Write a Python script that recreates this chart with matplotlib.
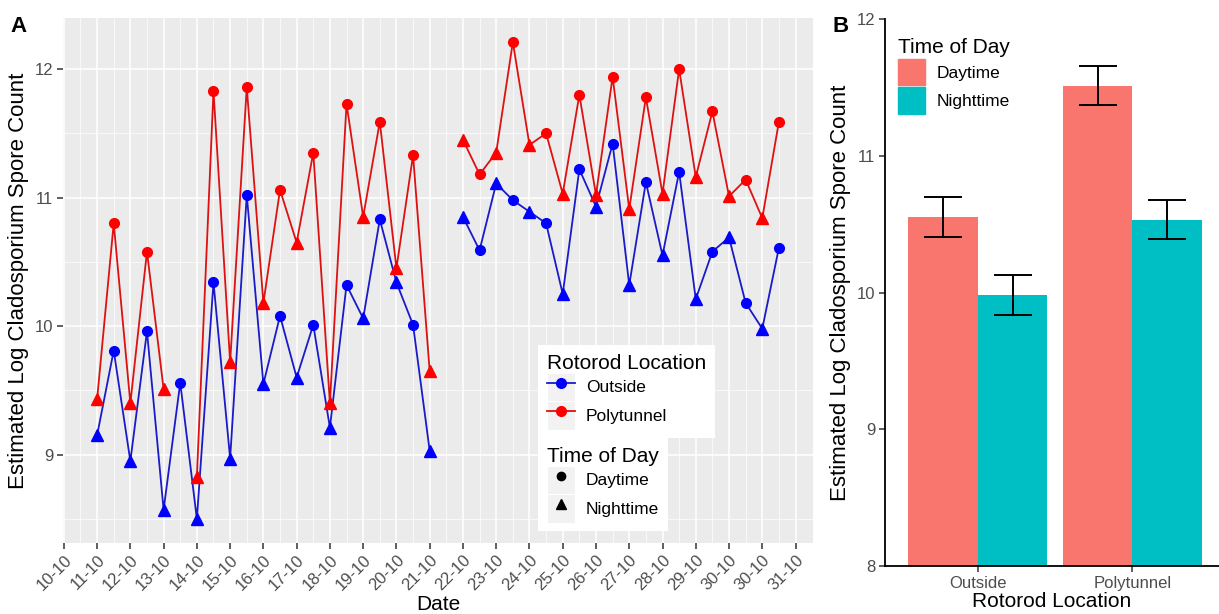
import numpy as np
import matplotlib
matplotlib.use("Agg")
import matplotlib.pyplot as plt
from matplotlib.lines import Line2D
from matplotlib.patches import Patch, Rectangle
from matplotlib.legend_handler import HandlerLine2D

plt.rcParams['font.family'] = ['Liberation Sans', 'DejaVu Sans']

# ---- panel A data: one value per half day, from 11-10 night to 31-10 day
date_labels = ["10-10", "11-10", "12-10", "13-10", "14-10", "15-10", "16-10",
               "17-10", "18-10", "19-10", "20-10", "21-10", "22-10", "23-10",
               "24-10", "25-10", "26-10", "27-10", "28-10", "29-10", "30-10",
               "30-10", "31-10"]
time_of_day = ["Nighttime", "Daytime"] * 21

outside = [9.15, 9.81, 8.95, 9.96, 8.57, 9.56, 8.50, 10.34, 8.97, 11.02,
           9.55, 10.08, 9.60, 10.01, 9.21, 10.32, 10.06, 10.83, 10.34, 10.01,
           9.03, np.nan, 10.85, 10.59, 11.11, 10.98, 10.89, 10.80, 10.25, 11.22,
           10.93, 11.42, 10.32, 11.12, 10.55, 11.20, 10.21, 10.58, 10.69, 10.18,
           9.98, 10.61]
polytunnel = [9.43, 10.80, 9.40, 10.58, 9.51, np.nan, 8.83, 11.83, 9.72, 11.86,
              10.18, 11.06, 10.65, 11.35, 9.40, 11.73, 10.85, 11.59, 10.45, 11.33,
              9.65, np.nan, 11.45, 11.18, 11.35, 12.21, 11.41, 11.50, 11.03, 11.80,
              11.02, 11.94, 10.91, 11.78, 11.03, 12.00, 11.16, 11.67, 11.01, 11.14,
              10.84, 11.59]

# ---- panel B data
locations = ["Outside", "Polytunnel"]
day_mean = [10.55, 11.51]
day_low = [10.41, 11.37]
day_high = [10.70, 11.66]
night_mean = [9.98, 10.53]
night_low = [9.84, 10.39]
night_high = [10.13, 10.68]

W, H = 1219, 614
fig = plt.figure(figsize=(W / 100, H / 100), dpi=100)

def px_axes(x0, y0, x1, y1):
    return fig.add_axes([x0 / W, 1 - y1 / H, (x1 - x0) / W, (y1 - y0) / H])


class KeyBgHandler(HandlerLine2D):
    # ggplot style grey key square behind the legend symbol
    def create_artists(self, legend, orig_handle, xdescent, ydescent,
                       width, height, fontsize, trans):
        arts = super().create_artists(legend, orig_handle, xdescent, ydescent,
                                      width, height, fontsize, trans)
        bg = Rectangle((-xdescent, -ydescent), width, height,
                       facecolor='#F2F2F2', edgecolor='white', lw=0.8,
                       transform=trans)
        return [bg] + list(arts)


txt_grey = '#4D4D4D'

# ================= panel A =================
axA = px_axes(63, 18.3, 813, 542.7)
axA.set_facecolor('#EBEBEB')
pos = np.arange(len(outside)) * 0.5 + 1
is_day = np.array([t == "Daytime" for t in time_of_day])

series = [("Outside", outside, '#1a1ac8', '#0000FF'),
          ("Polytunnel", polytunnel, '#dd1111', '#FF0000')]
for name, vals, lc, mc in series:
    vals = np.array(vals)
    axA.plot(pos, vals, color=lc, lw=1.3, zorder=3)
    axA.plot(pos[is_day], vals[is_day], 'o', color=mc, ms=7, zorder=4)
    axA.plot(pos[~is_day], vals[~is_day], '^', color=mc, ms=8, zorder=4)

axA.set_xlim(-0.025, 22.525)
axA.set_ylim(8.315, 12.395)
axA.set_xticks(np.arange(len(date_labels)))
axA.set_xticklabels(date_labels, rotation=45, ha='right', rotation_mode='anchor',
                    fontsize=12, color=txt_grey)
axA.set_xticks(np.arange(len(date_labels) - 1) + 0.5, minor=True)
axA.set_yticks([9, 10, 11, 12])
axA.set_yticklabels(["9", "10", "11", "12"], fontsize=12, color=txt_grey)
axA.set_yticks([8.5, 9.5, 10.5, 11.5], minor=True)
axA.grid(which='major', color='white', lw=1.1)
axA.grid(which='minor', color='white', lw=0.5)
axA.set_axisbelow(True)
axA.tick_params(which='major', length=4, width=1.1, color='#333333', pad=3)
axA.tick_params(which='minor', length=0)
for s in axA.spines.values():
    s.set_visible(False)
axA.set_xlabel("Date", fontsize=15, labelpad=1)
axA.set_ylabel("Estimated Log Cladosporium Spore Count", fontsize=16, labelpad=4)

leg_kw = dict(loc='upper left', frameon=True, fancybox=False, framealpha=1,
              edgecolor='white', fontsize=12.5, title_fontsize=15,
              handlelength=1.65, handleheight=2.15, handletextpad=0.6,
              labelspacing=0.0, alignment='left', borderpad=0.5,
              borderaxespad=0)
loc_handles = [Line2D([], [], color=lc, marker='o', mfc=mc, mec=mc, ms=7, lw=1.3)
               for _, _, lc, mc in series]
leg1 = fig.legend(loc_handles, [s[0] for s in series], title="Rotorod Location",
                  bbox_to_anchor=(538 / W, 1 - 345 / H),
                  handler_map={Line2D: KeyBgHandler()}, **leg_kw)
leg1.get_frame().set_linewidth(0)
tod_handles = [Line2D([], [], color='black', marker='o', ls='none', ms=6),
               Line2D([], [], color='black', marker='^', ls='none', ms=7)]
leg2 = fig.legend(tod_handles, ["Daytime", "Nighttime"], title="Time of Day",
                  bbox_to_anchor=(538 / W, 1 - 438 / H),
                  handler_map={Line2D: KeyBgHandler()}, **leg_kw)
leg2.get_frame().set_linewidth(0)

fig.text(10 / W, 1 - 27 / H, "A", fontsize=16, fontweight='bold', va='center')

# ================= panel B =================
axB = px_axes(885, 19.3, 1219, 566)
xb = np.arange(len(locations)) + 1
bw = 0.45
day_err = [np.array(day_mean) - np.array(day_low), np.array(day_high) - np.array(day_mean)]
night_err = [np.array(night_mean) - np.array(night_low), np.array(night_high) - np.array(night_mean)]
axB.bar(xb - bw / 2, day_mean, width=bw, color='#F8766D', label="Daytime")
axB.bar(xb + bw / 2, night_mean, width=bw, color='#00BFC4', label="Nighttime")
axB.errorbar(xb - bw / 2, day_mean, yerr=day_err, fmt='none', ecolor='black',
             elinewidth=1.4, capsize=14, capthick=1.4)
axB.errorbar(xb + bw / 2, night_mean, yerr=night_err, fmt='none', ecolor='black',
             elinewidth=1.4, capsize=14, capthick=1.4)
axB.set_xlim(0.4, 2.56)
axB.set_ylim(8, 12)
axB.set_xticks(xb)
axB.set_xticklabels(locations, fontsize=12, color=txt_grey)
axB.set_yticks([8, 9, 10, 11, 12])
axB.set_yticklabels(["8", "9", "10", "11", "12"], fontsize=12, color=txt_grey)
axB.tick_params(length=4, width=1.1, color='#333333', pad=3)
for side in ['top', 'right']:
    axB.spines[side].set_visible(False)
for side in ['left', 'bottom']:
    axB.spines[side].set_linewidth(1.3)
axB.set_xlabel("Rotorod Location", fontsize=15, labelpad=1)
axB.set_ylabel("Estimated Log Cladosporium Spore Count", fontsize=16, labelpad=4)
legB = axB.legend(handles=[Patch(color='#F8766D'), Patch(color='#00BFC4')],
                  labels=["Daytime", "Nighttime"], title="Time of Day",
                  loc='upper left', bbox_to_anchor=(0.018, 0.978), frameon=False,
                  fontsize=12.5, title_fontsize=15, handlelength=1.55,
                  handleheight=1.93, labelspacing=0.12, handletextpad=0.7,
                  alignment='left', borderaxespad=0, borderpad=0.4)

fig.text(832 / W, 1 - 27 / H, "B", fontsize=16, fontweight='bold', va='center')

fig.savefig("out.png", dpi=100)
